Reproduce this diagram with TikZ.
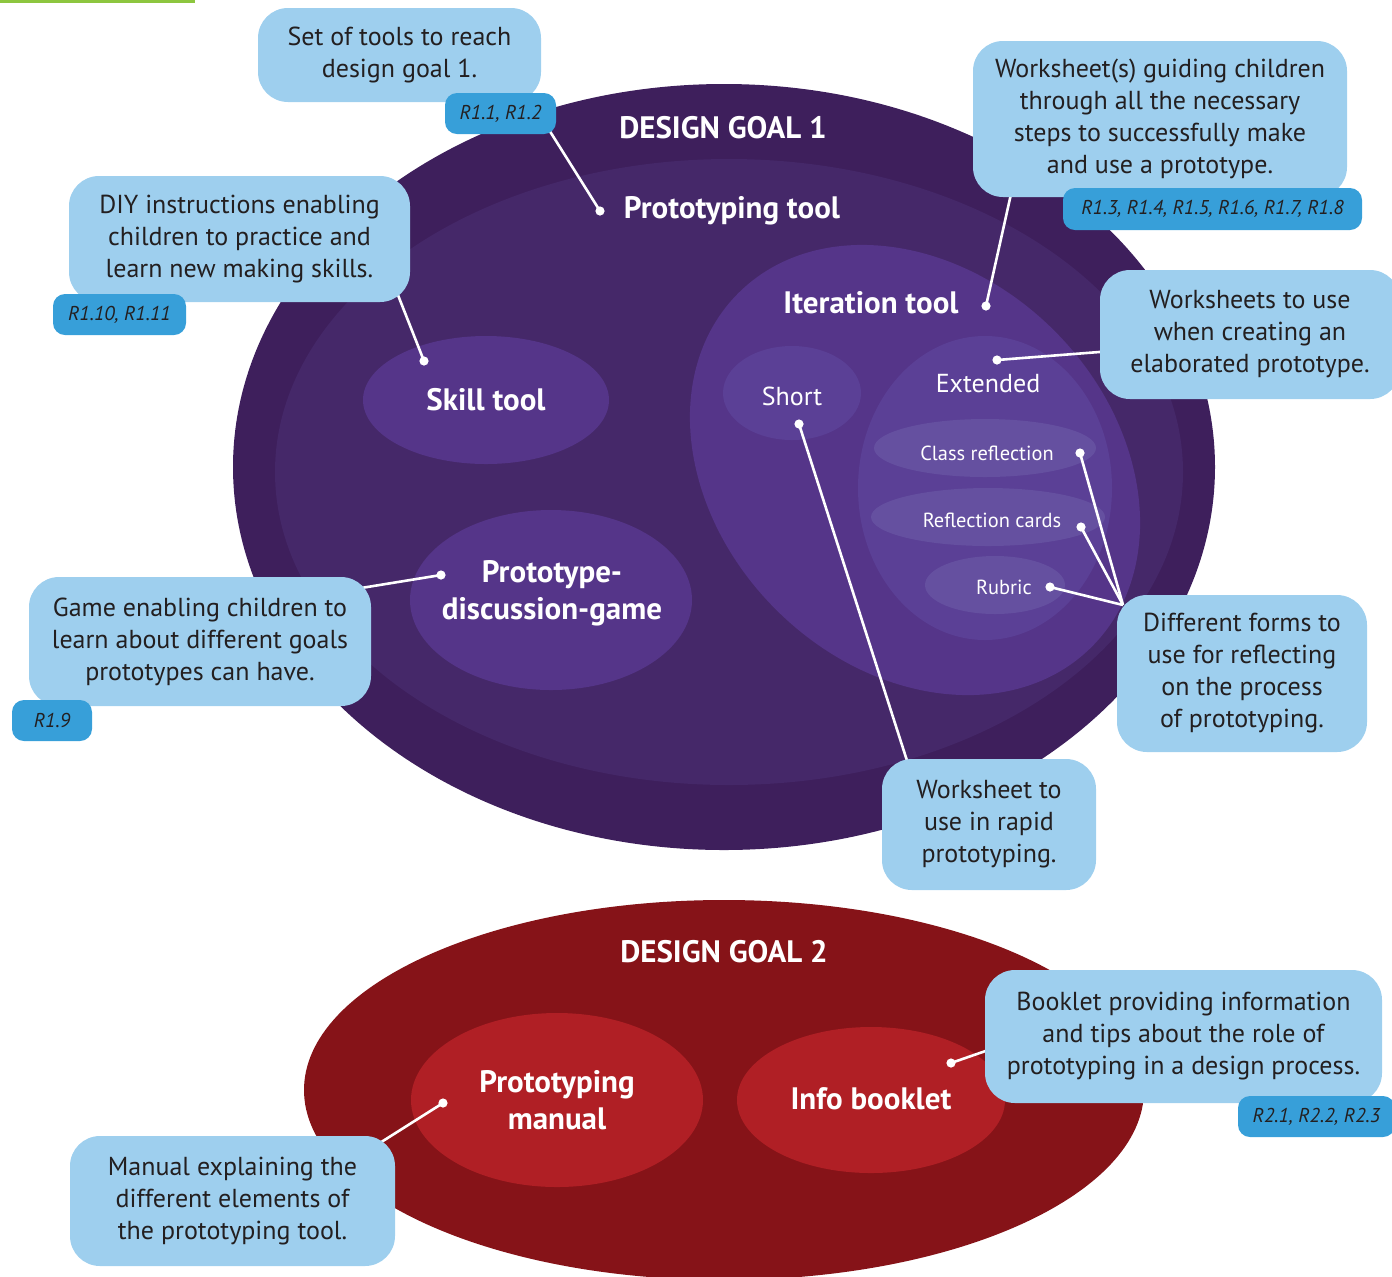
\documentclass[tikz,border=0pt]{standalone}
\usepackage{fontspec}
\setmainfont{PT Sans}
\definecolor{goalone}{HTML}{3E1F5C}
\definecolor{ringone}{HTML}{452869}
\definecolor{toolfill}{HTML}{553589}
\definecolor{subfill}{HTML}{5B4096}
\definecolor{formfill}{HTML}{6550A0}
\definecolor{goaltwo}{HTML}{861318}
\definecolor{tooltwo}{HTML}{B01F25}
\definecolor{bubblefill}{HTML}{9ECFEE}
\definecolor{tagfill}{HTML}{379FD9}
\definecolor{inkdark}{HTML}{231F20}
\definecolor{topgreen}{HTML}{8DC63F}
\begin{document}
\begin{tikzpicture}[x=0.5pt,y=-0.5pt,
  bubble/.style={fill=bubblefill, rounded corners=15pt, align=center, text=inkdark,
    inner sep=0pt, font=\fontsize{13}{16}\selectfont},
  tagbox/.style={fill=tagfill, rounded corners=6pt, align=center, text=inkdark,
    inner sep=0pt, font=\fontsize{10}{11}\selectfont\itshape},
  boldlabel/.style={text=white, align=center, font=\fontsize{15.5}{18.5}\selectfont\bfseries},
  plainlabel/.style={text=white, align=center, font=\fontsize{13}{14}\selectfont},
  smalllabel/.style={text=white, align=center, font=\fontsize{10.2}{11}\selectfont},
  dot/.style={circle, fill=white, inner sep=0pt, minimum size=4.6pt},
  conn/.style={draw=white, line width=1.3pt}]
\useasboundingbox (0,0) rectangle (1392,1276);

% thin green rule at the top edge
\fill[topgreen] (0,0) rectangle (195,2.5);

% ---------- design goal 1 ----------
\fill[goalone] (724,467) ellipse [x radius=245.5pt, y radius=191.5pt];
\fill[ringone] (729,472) ellipse [x radius=227pt, y radius=156.5pt];
\begin{scope}[shift={(915,470)}, rotate=-45]
  \fill[toolfill] (0,0) ellipse [x radius=125pt, y radius=98.5pt];
\end{scope}
\fill[subfill] (792,393) ellipse [x radius=34.5pt, y radius=23.5pt];
\fill[subfill] (985,488) ellipse [x radius=63.5pt, y radius=76pt];
\fill[formfill] (985,448) ellipse [x radius=55.5pt, y radius=14.5pt];
\fill[formfill] (988,517) ellipse [x radius=58.5pt, y radius=14.5pt];
\fill[formfill] (995,585) ellipse [x radius=35pt, y radius=14.5pt];
\fill[toolfill] (486,400) ellipse [x radius=61.5pt, y radius=32pt];
\fill[toolfill] (551,600) ellipse [x radius=70.5pt, y radius=45pt];

\node[boldlabel] (goal1) at (723,128) {DESIGN GOAL 1};
\node[boldlabel] (proto) at (732,211) {Prototyping tool};
\node[boldlabel] (iter) at (871,303) {Iteration tool};
\node[boldlabel] (skill) at (486,400) {Skill tool};
\node[boldlabel] (game) at (552,593) {Prototype-\\discussion-game};
\node[plainlabel] (short) at (792,396) {Short};
\node[plainlabel] (ext) at (988,384) {Extended};
\node[smalllabel] (classr) at (987,453) {Class reflection};
\node[smalllabel] (cards) at (992,520) {Reflection cards};
\node[smalllabel] (rubric) at (1004,587) {Rubric};

% ---------- design goal 2 ----------
\fill[goaltwo] (724,1090) ellipse [x radius=210pt, y radius=95pt];
\fill[tooltwo] (557,1100) ellipse [x radius=73pt, y radius=43.5pt];
\fill[tooltwo] (871,1100) ellipse [x radius=67pt, y radius=36.5pt];
\node[boldlabel] (goal2) at (724,952) {DESIGN GOAL 2};
\node[boldlabel] (manual) at (557,1100) {Prototyping\\manual};
\node[boldlabel] (booklet) at (871,1099) {Info booklet};

% ---------- pointer dots ----------
\node[dot] (dproto) at (600,211) {};
\node[dot] (diter) at (986,306) {};
\node[dot] (dext) at (997,360) {};
\node[dot] (dskill) at (424,361) {};
\node[dot] (dgame) at (441,575) {};
\node[dot] (dshort) at (799,424) {};
\node[dot] (dclass) at (1080,453) {};
\node[dot] (dcards) at (1081,527) {};
\node[dot] (drubric) at (1050,587) {};
\node[dot] (dmanual) at (443,1103) {};
\node[dot] (dbooklet) at (951,1063) {};

% ---------- connector ends, tucked under the bubbles ----------
\coordinate (eproto) at (546,125);
\coordinate (eiter) at (1013,185);
\coordinate (eext) at (1112,351);
\coordinate (eskill) at (396,290);
\coordinate (egame) at (355,589);
\coordinate (eshort) at (910,770);
\coordinate (eforms) at (1123,605);
\coordinate (emanual) at (375,1146);
\coordinate (ebooklet) at (997,1047);

\draw[conn] (dproto.center) -- (eproto);
\draw[conn] (diter.center) -- (eiter);
\draw[conn] (dext.center) -- (eext);
\draw[conn] (dskill.center) -- (eskill);
\draw[conn] (dgame.center) -- (egame);
\draw[conn] (dshort.center) -- (eshort);
\draw[conn] (dclass.center) -- (eforms);
\draw[conn] (dcards.center) -- (eforms);
\draw[conn] (drubric.center) -- (eforms);
\draw[conn] (dmanual.center) -- (emanual);
\draw[conn] (dbooklet.center) -- (ebooklet);

% ---------- explanation bubbles ----------
\node[bubble, minimum width=141.5pt, minimum height=47pt] (bset) at (399.5,55)
  {Set of tools to reach\\design goal 1.};
\node[tagbox, minimum width=55.5pt, minimum height=20.5pt] (tset) at (500.5,113.5)
  {R1.1, R1.2};

\node[bubble, minimum width=187pt, minimum height=78pt] (bwork) at (1160,119)
  {Worksheet(s) guiding children\\through all the necessary\\steps to successfully make\\and use a prototype.};
\node[tagbox, minimum width=149.5pt, minimum height=21pt] (twork) at (1212.5,209)
  {R1.3, R1.4, R1.5, R1.6, R1.7, R1.8};

\node[bubble, minimum width=170.5pt, minimum height=63pt] (bdiy) at (239.5,239)
  {DIY instructions enabling\\children to practice and\\learn new making skills.};
\node[tagbox, minimum width=66.5pt, minimum height=20.5pt] (tdiy) at (119.5,314.5)
  {R1.10, R1.11};

\node[bubble, minimum width=150pt, minimum height=64.5pt] (bext) at (1250,334.5)
  {Worksheets to use\\when creating an\\elaborated prototype.};

\node[bubble, minimum width=171pt, minimum height=64.5pt] (bgame) at (200,641.5)
  {Game enabling children to\\learn about different goals\\prototypes can have.};
\node[tagbox, minimum width=40pt, minimum height=20.5pt] (tgame) at (52,720.5)
  {R1.9};

\node[bubble, minimum width=125pt, minimum height=78.5pt] (bforms) at (1242,673.5)
  {Different forms to\\use for reflecting\\on the process\\of prototyping.};

\node[bubble, minimum width=107pt, minimum height=65.5pt] (bshort) at (989,824.5)
  {Worksheet to\\use in rapid\\prototyping.};

\node[bubble, minimum width=198.5pt, minimum height=66.5pt] (bbook) at (1183.5,1036.5)
  {Booklet providing information\\and tips about the role of\\prototyping in a design process.};
\node[tagbox, minimum width=78.5pt, minimum height=20.5pt] (tbook) at (1316.5,1116.5)
  {R2.1, R2.2, R2.3};

\node[bubble, minimum width=162.5pt, minimum height=65pt] (bman) at (232.5,1201)
  {Manual explaining the\\different elements of\\the prototyping tool.};
\end{tikzpicture}
\end{document}
